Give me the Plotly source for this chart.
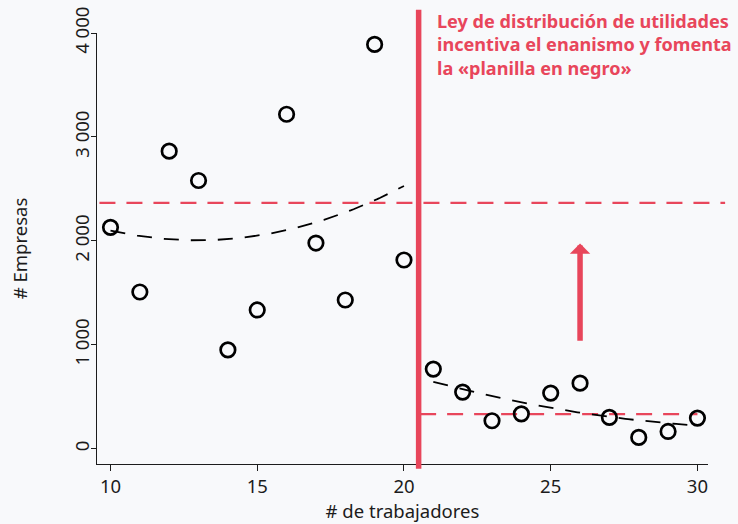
import numpy as np
import plotly.graph_objects as go

# Number of firms by firm size (workers)
workers_small = [10, 11, 12, 13, 14, 15, 16, 17, 18, 19, 20]
firms_small = [2130, 1508, 2863, 2581, 951, 1335, 3218, 1979, 1431, 3890, 1816]
workers_large = [21, 22, 23, 24, 25, 26, 27, 28, 29, 30]
firms_large = [766, 545, 269, 336, 535, 631, 301, 109, 166, 295]

# Reference levels and threshold
threshold = 20.5
level_small = 2366
level_large = 333
arrow_from, arrow_to, arrow_x = 1045, 1975, 26

note_lines = [
    "Ley de distribución de utilidades",
    "incentiva el enanismo y fomenta",
    "la «planilla en negro»",
]

RED = "#E8465B"
INK = "#1c1c1c"
BG = "#F8F9FB"
FONT = "Noto Sans"
FS = 18.5


def quad_fit(x, y):
    coef = np.polyfit(x, y, 2)
    xs = np.linspace(min(x), max(x), 100)
    return xs, np.polyval(coef, xs)


fig = go.Figure()

for xs_, ys_ in (quad_fit(workers_small, firms_small), quad_fit(workers_large, firms_large)):
    fig.add_trace(go.Scatter(
        x=xs_, y=ys_, mode="lines",
        line=dict(color="black", width=1.8, dash="15px,12px"),
        hoverinfo="skip", showlegend=False,
    ))

fig.add_trace(go.Scatter(
    x=workers_small + workers_large, y=firms_small + firms_large,
    mode="markers",
    marker=dict(symbol="circle", size=14.5, color="rgba(0,0,0,0)",
                line=dict(color="black", width=2.7)),
    showlegend=False,
))

# Horizontal reference levels
fig.add_shape(type="line", xref="paper", yref="y", x0=0.004, x1=1.028,
              y0=level_small, y1=level_small, layer="below",
              line=dict(color=RED, width=2.2, dash="16px,11px"))
fig.add_shape(type="line", xref="x", yref="y", x0=threshold + 0.05, x1=30,
              y0=level_large, y1=level_large, layer="below",
              line=dict(color=RED, width=2.2, dash="16px,11px"))
# Threshold line
fig.add_shape(type="line", xref="x", yref="paper", x0=threshold, x1=threshold,
              y0=-0.011, y1=1.054, layer="above",
              line=dict(color=RED, width=5.5))

# Arrow
fig.add_annotation(x=arrow_x, y=arrow_to, ax=arrow_x, ay=arrow_from - 20,
                   xref="x", yref="y", axref="x", ayref="y",
                   showarrow=True, arrowhead=1, arrowsize=0.62, arrowwidth=5.5,
                   arrowcolor=RED, text="")

# Note text, one annotation per line
center_px = [20.5, 44.0, 67.5]
plot_top, plot_h = 32.5, 431.8
for line, c in zip(note_lines, center_px):
    fig.add_annotation(
        xref="paper", yref="paper",
        x=(435.5 - 97.3) / 610.7, y=(plot_top + plot_h - c) / plot_h,
        xanchor="left", yanchor="middle",
        text=f"<b>{line}</b>", showarrow=False,
        font=dict(family=FONT, size=18.1, color=RED),
    )

fig.update_layout(
    width=738, height=524,
    margin=dict(l=97.3, r=30, t=32.5, b=59.7),
    paper_bgcolor=BG, plot_bgcolor=BG,
    separators=". ",
    font=dict(family=FONT, size=FS, color=INK),
    showlegend=False,
)
fig.update_xaxes(
    range=[9.54, 30.36], tickvals=[10, 15, 20, 25, 30],
    showline=True, linecolor=INK, linewidth=1.3,
    ticks="outside", ticklen=6, tickcolor=INK, tickwidth=1.3,
    tickfont=dict(size=FS), showgrid=False, zeroline=False, automargin=False,
    title=dict(text="# de trabajadores", font=dict(size=FS), standoff=6),
)
fig.update_yaxes(
    range=[-147, 4000], tickvals=[0, 1000, 2000, 3000, 4000],
    tickformat=",d", separatethousands=True, tickangle=-90,
    showline=True, linecolor=INK, linewidth=1.3,
    ticks="outside", ticklen=5, tickcolor=INK, tickwidth=1.3,
    tickfont=dict(size=FS), showgrid=False, zeroline=False, automargin=False,
    ticklabelstandoff=-6,
    title=dict(text="# Empresas", font=dict(size=FS), standoff=36),
)

fig.write_html("out.html")
